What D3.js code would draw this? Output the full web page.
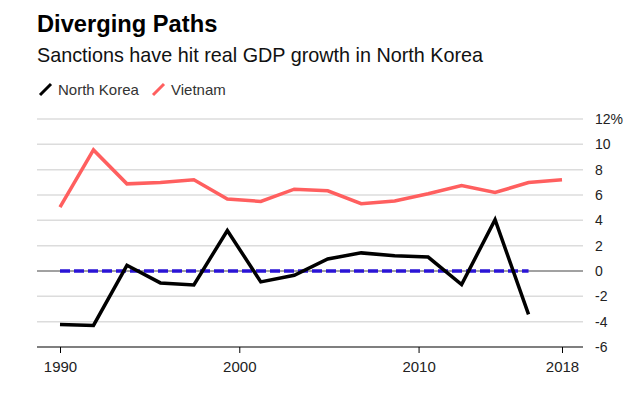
<!DOCTYPE html>
<html lang="en">
<head>
  <meta charset="utf-8">
  <title>Diverging Paths</title>
  <script src="https://d3js.org/d3.v7.min.js"></script>
  <style>
    body { margin: 0; background: #fff; }
    svg text { font-family: "Liberation Sans", Arial, sans-serif; }
    .grid line { stroke: #dcdcdc; stroke-width: 1.5; }
    .ylab { font-size: 14px; fill: #222; }
    .xlab { font-size: 15px; fill: #222; }
  </style>
</head>
<body>
  <div id="chart"></div>
  <script>
    "use strict"

    // values, evenly spaced from 1990 to 2018
    var vietnam = [5.05, 9.56, 6.88, 6.98, 7.2, 5.68, 5.49, 6.46, 6.33, 5.31, 5.52, 6.1, 6.75, 6.2, 6.98, 7.2];
    var northKorea = [-4.22, -4.3, 0.45, -0.94, -1.1, 3.2, -0.86, -0.34, 0.95, 1.43, 1.2, 1.1, -1.07, 4.05, -3.43];
    var zeroLine = [0, 0, 0, 0, 0, 0, 0, 0, 0, 0, 0, 0, 0, 0, 0];
    var yearTicks = [1990, 2000, 2010, 2018];
    var yTicks = [12, 10, 8, 6, 4, 2, 0, -2, -4, -6];

    var larguraSVG = 640, alturaSVG = 395;
    var svg = d3.select('#chart').append('svg')
      .attr('width', larguraSVG)
      .attr('height', alturaSVG);

    // titulo e legenda
    svg.append('text').attr('x', 37).attr('y', 32)
      .attr('font-size', 23.7).attr('font-weight', 'bold').attr('fill', '#000')
      .text('Diverging Paths');
    svg.append('text').attr('x', 37).attr('y', 62)
      .attr('font-size', 19.8).attr('fill', '#111')
      .text('Sanctions have hit real GDP growth in North Korea');

    var legenda = [{nome: 'North Korea', cor: '#000', x: 39}, {nome: 'Vietnam', cor: '#ff5f5f', x: 152}];
    var lg = svg.selectAll('.leg').data(legenda).enter().append('g')
      .attr('transform', function(d) { return 'translate(' + d.x + ',0)'; });
    lg.append('line').attr('x1', 1).attr('y1', 95).attr('x2', 12).attr('y2', 84)
      .attr('stroke', function(d) { return d.cor; }).attr('stroke-width', 3);
    lg.append('text').attr('x', 19).attr('y', 95)
      .attr('font-size', 15).attr('fill', '#333')
      .text(function(d) { return d.nome; });

    var left = 37, right = 583, xStart = 60, xEnd = 562;
    var y = d3.scaleLinear().domain([-6, 12]).range([347, 119]);
    var xAno = d3.scaleLinear().domain([1990, 2018]).range([xStart, xEnd]);
    var xIdx = d3.scalePoint().domain(d3.range(vietnam.length)).range([xStart, xEnd]);

    // grade
    svg.append('g').attr('class', 'grid')
      .selectAll('line').data(yTicks.filter(function(t) { return t !== 0 && t !== -6; }))
      .enter().append('line')
        .attr('x1', left).attr('x2', right)
        .attr('y1', function(d) { return y(d); })
        .attr('y2', function(d) { return y(d); });

    svg.append('line').attr('x1', left).attr('x2', right)
      .attr('y1', y(0)).attr('y2', y(0))
      .attr('stroke', '#444').attr('stroke-width', 1);

    svg.selectAll('.ylab').data(yTicks).enter().append('text')
      .attr('class', 'ylab')
      .attr('x', 595).attr('y', function(d) { return y(d) + 5; })
      .text(function(d) { return d === 12 ? '12%' : d; });

    // eixo x
    var eixo = svg.append('g')
      .attr('transform', 'translate(0,' + y(-6) + ')')
      .call(d3.axisBottom(xAno).tickValues(yearTicks).tickFormat(d3.format('d')).tickSize(6).tickPadding(8));
    eixo.select('.domain').attr('d', 'M' + left + ',0H' + right).attr('stroke', '#000').attr('stroke-width', 1.2);
    eixo.selectAll('.tick line').attr('stroke', '#000');
    eixo.selectAll('.tick text').attr('class', 'xlab').attr('fill', null);
    eixo.attr('font-family', null).attr('font-size', null);

    var linha = d3.line()
      .x(function(d, i) { return xIdx(i); })
      .y(function(d) { return y(d); });

    svg.append('path').datum(vietnam).attr('d', linha)
      .attr('fill', 'none').attr('stroke', '#ff5f5f').attr('stroke-width', 3.5)
      .attr('stroke-linejoin', 'miter');
    svg.append('path').datum(zeroLine).attr('d', linha)
      .attr('fill', 'none').attr('stroke', '#2a14d6').attr('stroke-width', 3.5)
      .attr('stroke-dasharray', '10,4');
    svg.append('path').datum(northKorea).attr('d', linha)
      .attr('fill', 'none').attr('stroke', '#000').attr('stroke-width', 3.5)
      .attr('stroke-linejoin', 'miter');
  </script>
</body>
</html>
